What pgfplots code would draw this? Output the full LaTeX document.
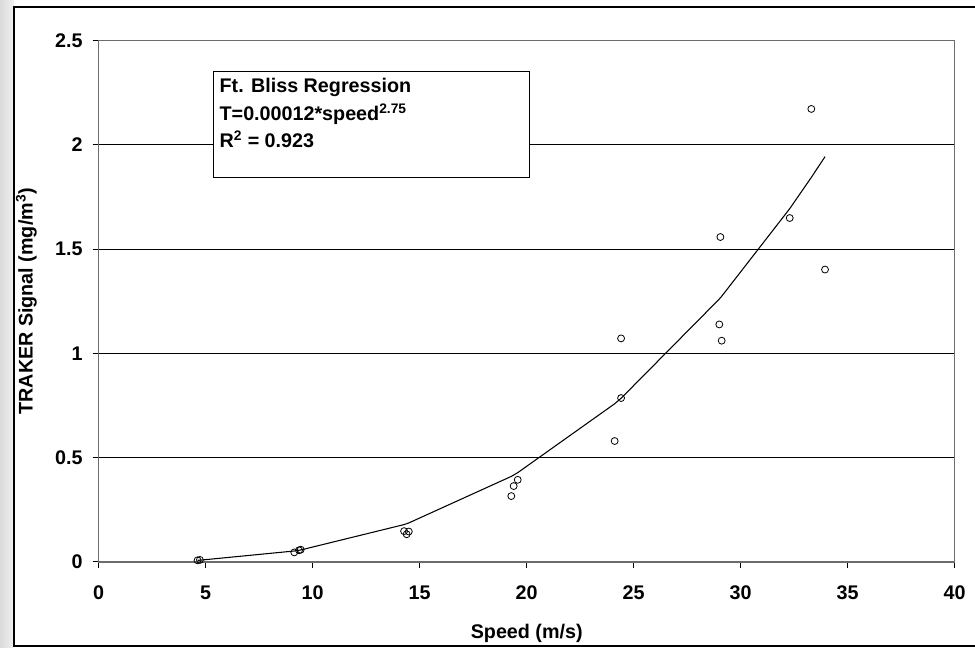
\documentclass[border=0pt]{standalone}
\usepackage{fontspec}
\setmainfont{Liberation Sans}
\usepackage{pgfplots}
\pgfplotsset{compat=1.18}
\begin{document}
\begin{tikzpicture}
\useasboundingbox (0,0) rectangle (731.25pt,486pt);
\fill[white] (0,0) rectangle (731.25pt,486pt);
\shade[left color=gray!28, right color=gray!12] (0,0) rectangle (10.5pt,486pt);
\draw[line width=1.1pt] (731.25pt,480.75pt) -- (10.5pt,480.75pt) -- (10.5pt,1.5pt) -- (731.25pt,1.5pt);
\begin{axis}[
  at={(74.03pt,64.5pt)}, anchor=south west, scale only axis,
  width=642pt, height=391.1pt,
  xmin=0, xmax=40, ymin=0, ymax=2.5,
  xtick={0,5,...,40}, ytick={0,0.5,1,1.5,2,2.5},
  ymajorgrids, major grid style={black, line width=0.75pt},
  axis line style={draw=gray!85!black, line width=1pt},
  tick align=outside, tick pos=left, major tick length=4.5pt,
  tick style={black, line width=0.75pt},
  /pgf/number format/assume math mode=true,
  ticklabel style={font=\bfseries\fontsize{14.8}{17}\selectfont},
  yticklabel style={xshift=-4pt},
  xticklabel style={yshift=-10pt},
  label style={font=\bfseries\fontsize{14.8}{17}\selectfont},
  xlabel={Speed (m/s)},
  ylabel={TRAKER Signal (mg/m\textsuperscript{3})},
  xlabel style={yshift=-11pt},
  ylabel style={yshift=7pt},
  clip=false,
]
\addplot[only marks, mark=o, mark size=2.6pt, mark options={line width=0.6pt}] coordinates {
(4.62,0.008) (4.73,0.010)
(9.14,0.046) (9.36,0.056) (9.44,0.059)
(14.27,0.148) (14.39,0.133) (14.49,0.146)
(19.28,0.316) (19.39,0.364) (19.58,0.394)
(24.11,0.580) (24.41,1.072) (24.41,0.786)
(29.00,1.139) (29.05,1.558) (29.11,1.061)
(32.29,1.649) (33.30,2.172) (33.94,1.402)
};
\addplot[black, line width=0.8pt, mark=none] coordinates {
(4.62,0.0081) (4.73,0.0086)
(9.14,0.0527) (9.36,0.0563) (9.44,0.0576)
(14.27,0.1794) (14.39,0.1836) (14.49,0.1872)
(19.28,0.4103) (19.39,0.4168) (19.58,0.4282)
(24.11,0.7586) (24.41,0.7848)
(29.00,1.2606) (29.05,1.2667) (29.11,1.2737)
(32.29,1.6938) (33.30,1.8439) (33.94,1.9432)
};
\draw[black, line width=0.8pt, fill=white] (axis cs:5.355,1.844) rectangle (axis cs:20.12,2.353);
\node[anchor=base west, inner sep=0pt, font=\bfseries\fontsize{14.8}{17}\selectfont] at (axis cs:5.64,2.252) {Ft. Bliss Regression};
\node[anchor=base west, inner sep=0pt, font=\bfseries\fontsize{14.8}{17}\selectfont] at (axis cs:5.64,2.115) {T=0.00012*speed\textsuperscript{2.75}};
\node[anchor=base west, inner sep=0pt, font=\bfseries\fontsize{14.8}{17}\selectfont] at (axis cs:5.64,1.985) {R\textsuperscript{2} = 0.923};
\end{axis}
\end{tikzpicture}
\end{document}
